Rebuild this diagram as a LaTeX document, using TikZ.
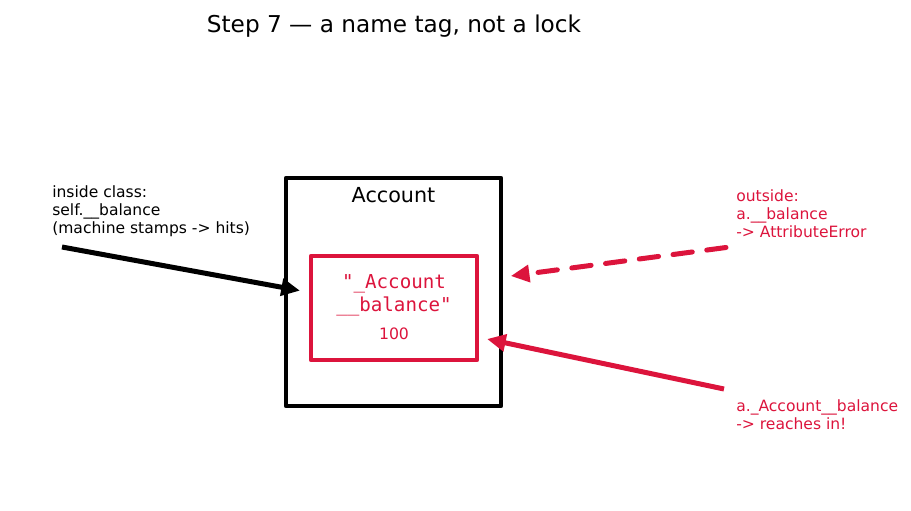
\documentclass[tikz,border=0pt]{standalone}
\usepackage{fontspec}
\setmainfont{DejaVu Sans}
\setmonofont{DejaVu Sans Mono}
\usepackage{tikz}
\usetikzlibrary{arrows.meta,positioning}
\definecolor{alarm}{RGB}{220,20,60}

\begin{document}
\begin{tikzpicture}[x=0.72pt,y=-0.72pt,line join=round,
	note/.style={inner sep=0pt,align=left,anchor=north west,font=\fontsize{11.2}{13}\selectfont},
	classbox/.style={draw,line width=3.4pt,outer sep=0pt,minimum width=154.8pt,minimum height=164.2pt},
	tagbox/.style={draw=alarm,line width=3.4pt,outer sep=0pt,minimum width=119.5pt,minimum height=74.9pt},
	hit/.style={line width=3.6pt,-{Triangle[length=13.5pt,width=12pt]}}]
	\useasboundingbox (0,0) rectangle (911,510);
	\node[anchor=base,font=\fontsize{16.7}{20}\selectfont] (title) at (394,32) {Step 7 — a name tag, not a lock};
	% the class and the renamed attribute inside it
	\node[classbox] (account) at (393.5,292) {};
	\node[anchor=base,font=\fontsize{14.9}{18}\selectfont] (name) at (393.5,202) {Account};
	\node[tagbox] (tag) at (394,308) {};
	\node[text=alarm,align=center,anchor=base,font=\fontsize{13.8}{16.5}\selectfont\ttfamily] (mangled) at (394,311.5) {\textquotedbl\_Account\\\_\_balance\textquotedbl};
	\node[text=alarm,anchor=base,font=\fontsize{11.3}{13}\selectfont] (value) at (394,339.5) {100};
	% who can reach it
	\node[note] (inside) at (52,185.2) {inside class:\\self.\_\_balance\\(machine stamps -> hits)};
	\node[note,text=alarm] (outside) at (736,189.5) {outside:\\a.\_\_balance\\-> AttributeError};
	\node[note,text=alarm] (reach) at (736,399) {a.\_Account\_\_balance\\-> reaches in!};
	\coordinate (insidefrom) at (62,247);
	\coordinate (outsidefrom) at (726,247.5);
	\coordinate (reachfrom) at (724,389);
	\draw[hit] (insidefrom) -- ([xshift=10.1pt,yshift=1pt]account.west);
	\draw[hit,alarm,dash pattern=on 14pt off 10.5pt,line cap=round] (outsidefrom) -- ([xshift=7pt,yshift=11.5pt]account.east);
	\draw[hit,alarm] (reachfrom) -- ([xshift=7.2pt,yshift=-22.3pt]tag.east);
\end{tikzpicture}
\end{document}
